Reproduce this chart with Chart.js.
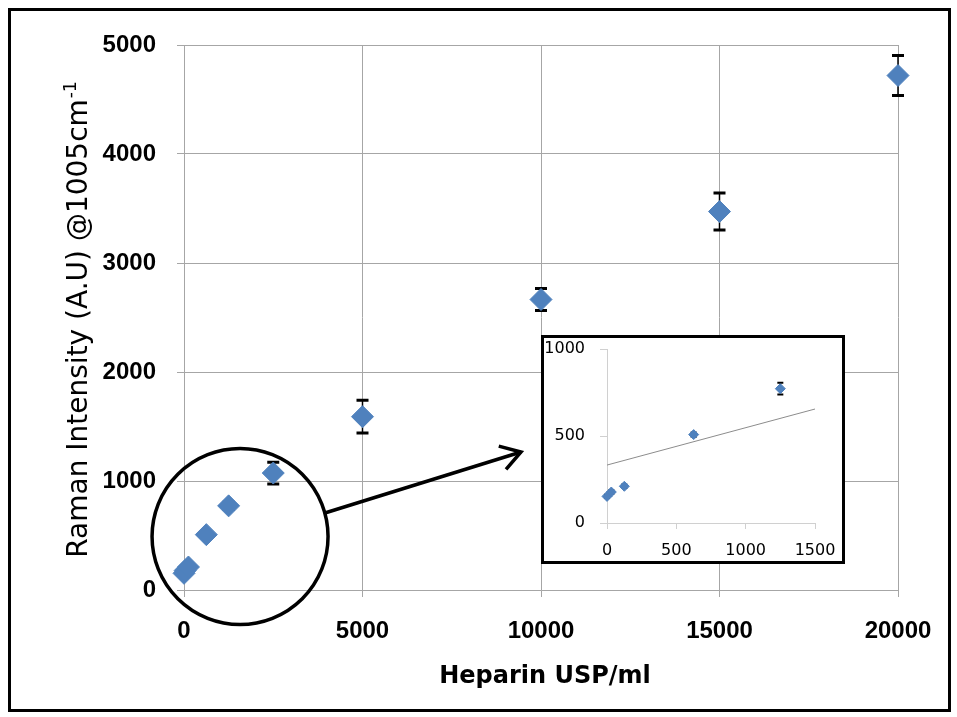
<!DOCTYPE html>
<html><head><meta charset="utf-8">
<script src="https://cdn.jsdelivr.net/npm/chart.js@4"></script>
<style>
html,body{margin:0;padding:0;background:#fff;}
#wrap{position:relative;width:957px;height:717px;overflow:hidden;}
#main{position:absolute;left:0;top:0;}
#frame{position:absolute;left:8px;top:8px;width:943px;height:704px;border:3px solid #000;box-sizing:border-box;pointer-events:none;}
#insetBox{position:absolute;left:541px;top:335px;width:304px;height:229px;border:3px solid #000;box-sizing:border-box;background:#fff;}
#inset{position:absolute;left:0;top:0;}
</style></head>
<body>
<div id="wrap">
  <canvas id="main" width="957" height="717"></canvas>
  <div id="insetBox"><canvas id="inset" width="298" height="223"></canvas></div>
  <div id="frame"></div>
</div>
<script>
// ---- data ----
const heparin   = [0, 31, 125, 625, 1250, 2500, 5000, 10000, 15000, 20000];
const intensity = [153, 178, 211, 508, 772, 1073, 1590, 2665, 3472, 4720];
const errorY    = [10, 10, 10, 12, 34, 100, 150, 100, 170, 183];
const mainXTicks = [0, 5000, 10000, 15000, 20000];
const mainYTicks = [0, 1000, 2000, 3000, 4000, 5000];
const insetXTicks = [0, 500, 1000, 1500];
const insetYTicks = [0, 500, 1000];
const trendX = [0, 1500];
const trendY = [333, 655];
const xTitle = 'Heparin USP/ml';
const yTitleMain = 'Raman Intensity (A.U) @1005cm';
const yTitleSup = '-1';

const BLUE = '#4f81bd';
const pts = heparin.map((x, i) => ({x, y: intensity[i]}));
const plain = v => String(v);
const noPad = s => { s.paddingLeft = 0; s.paddingRight = 0; s.paddingTop = 0; s.paddingBottom = 0; };

function errorBarPlugin(id, capHalf, lw) {
  return {
    id,
    beforeDatasetsDraw(chart) {
      const {ctx, scales: {x, y}} = chart;
      ctx.save();
      ctx.strokeStyle = '#000';
      heparin.forEach((hx, i) => {
        if (hx > x.max) return;
        const px = x.getPixelForValue(hx);
        const top = y.getPixelForValue(intensity[i] + errorY[i]);
        const bot = y.getPixelForValue(intensity[i] - errorY[i]);
        ctx.lineWidth = lw;
        ctx.beginPath();
        ctx.moveTo(px, top); ctx.lineTo(px, bot);
        ctx.stroke();
        ctx.lineWidth = lw * 2;
        ctx.beginPath();
        ctx.moveTo(px - capHalf, top); ctx.lineTo(px + capHalf, top);
        ctx.moveTo(px - capHalf, bot); ctx.lineTo(px + capHalf, bot);
        ctx.stroke();
      });
      ctx.restore();
    }
  };
}

const titlesPlugin = {
  id: 'titles',
  afterDraw(chart) {
    const {ctx} = chart;
    ctx.save();
    ctx.fillStyle = '#000';
    // x title
    ctx.font = 'bold 24px "DejaVu Sans"';
    ctx.textAlign = 'center';
    ctx.textBaseline = 'alphabetic';
    ctx.fillText(xTitle, 545, 683);
    // y title, rotated
    ctx.translate(87, 320);
    ctx.rotate(-Math.PI / 2);
    const mainFont = '28px "DejaVu Sans"';
    const supFont = '17px "DejaVu Sans"';
    ctx.font = mainFont;
    const w1 = ctx.measureText(yTitleMain).width;
    ctx.font = supFont;
    const w2 = ctx.measureText(yTitleSup).width;
    const total = w1 + w2;
    ctx.textAlign = 'left';
    ctx.textBaseline = 'alphabetic';
    ctx.font = mainFont;
    ctx.fillText(yTitleMain, -total / 2, 0);
    ctx.font = supFont;
    ctx.fillText(yTitleSup, -total / 2 + w1 + 1, -11);
    ctx.restore();
  }
};

const calloutPlugin = {
  id: 'callout',
  afterDraw(chart) {
    const {ctx, scales: {x, y}} = chart;
    const cx = x.getPixelForValue(1570);
    const cy = y.getPixelForValue(491);
    const r = 88;
    ctx.save();
    ctx.strokeStyle = '#000';
    ctx.lineWidth = 3.5;
    ctx.beginPath();
    ctx.arc(cx, cy, r, 0, Math.PI * 2);
    ctx.stroke();
    const sx = cx + r * Math.cos(-0.27), sy = cy + r * Math.sin(-0.27);
    const ex = 521, ey = 452;
    ctx.beginPath();
    ctx.moveTo(sx, sy); ctx.lineTo(ex, ey);
    ctx.stroke();
    const ang = Math.atan2(ey - sy, ex - sx);
    const L = 23, a = 0.56;
    ctx.beginPath();
    ctx.moveTo(ex - L * Math.cos(ang - a), ey - L * Math.sin(ang - a));
    ctx.lineTo(ex, ey);
    ctx.lineTo(ex - L * Math.cos(ang + a), ey - L * Math.sin(ang + a));
    ctx.stroke();
    ctx.restore();
  }
};

const GRID = '#a6a6a6';
const tickFontMain = {family: '"Liberation Sans"', size: 24, weight: 'bold'};

new Chart(document.getElementById('main'), {
  type: 'scatter',
  data: {
    datasets: [{
      data: pts,
      clip: false,
      pointStyle: 'rectRot',
      pointRadius: 11,
      pointHoverRadius: 11,
      backgroundColor: BLUE,
      borderColor: BLUE,
      borderWidth: 1
    }]
  },
  options: {
    responsive: false,
    devicePixelRatio: 1,
    animation: false,
    events: [],
    layout: {padding: {left: 0, top: 45, right: 59, bottom: 0}},
    plugins: {legend: {display: false}, tooltip: {enabled: false}},
    scales: {
      x: {
        type: 'linear', min: 0, max: 20000,
        afterBuildTicks: s => { s.ticks = mainXTicks.map(v => ({value: v})); },
        afterFit: s => { s.height = 127; noPad(s); },
        grid: {color: GRID, lineWidth: 1, tickLength: 7, tickColor: GRID},
        border: {color: GRID},
        ticks: {color: '#000', font: tickFontMain, padding: 20, maxRotation: 0, callback: plain}
      },
      y: {
        type: 'linear', min: 0, max: 5000,
        afterBuildTicks: s => { s.ticks = mainYTicks.map(v => ({value: v})); },
        afterFit: s => { s.width = 184; noPad(s); },
        grid: {color: GRID, lineWidth: 1, tickLength: 7, tickColor: GRID},
        border: {color: GRID},
        ticks: {color: '#000', font: tickFontMain, padding: 21, callback: plain}
      }
    }
  },
  plugins: [errorBarPlugin('eb', 6, 1.5), titlesPlugin, calloutPlugin]
});

const insetPts = pts.filter(p => p.x <= insetXTicks[insetXTicks.length - 1]);
const INGRID = '#d0d0d0';
const tickFontInset = {family: '"DejaVu Sans"', size: 16};

new Chart(document.getElementById('inset'), {
  type: 'scatter',
  data: {
    datasets: [{
      data: insetPts,
      clip: false,
      pointStyle: 'rectRot',
      pointRadius: 5,
      pointHoverRadius: 5,
      backgroundColor: BLUE,
      borderColor: BLUE,
      borderWidth: 1
    }, {
      type: 'line',
      data: trendX.map((x, i) => ({x, y: trendY[i]})),
      borderColor: '#8c8c8c',
      borderWidth: 1,
      pointRadius: 0,
      fill: false
    }]
  },
  options: {
    responsive: false,
    devicePixelRatio: 1,
    animation: false,
    events: [],
    layout: {padding: {left: 0, top: 11, right: 27, bottom: 0}},
    plugins: {legend: {display: false}, tooltip: {enabled: false}},
    scales: {
      x: {
        type: 'linear', min: 0, max: 1500,
        afterBuildTicks: s => { s.ticks = insetXTicks.map(v => ({value: v})); },
        afterFit: s => { s.height = 38; noPad(s); },
        grid: {display: true, drawOnChartArea: false, tickLength: 6, color: INGRID},
        border: {color: INGRID},
        ticks: {color: '#000', font: tickFontInset, padding: 12, maxRotation: 0, callback: plain}
      },
      y: {
        type: 'linear', min: 0, max: 1000,
        afterBuildTicks: s => { s.ticks = insetYTicks.map(v => ({value: v})); },
        afterFit: s => { s.width = 63; noPad(s); },
        grid: {display: true, drawOnChartArea: false, tickLength: 7, color: INGRID},
        border: {color: INGRID},
        ticks: {color: '#000', font: tickFontInset, padding: 15, callback: plain}
      }
    }
  },
  plugins: [errorBarPlugin('ebi', 3, 1)]
});
</script>
</body></html>
